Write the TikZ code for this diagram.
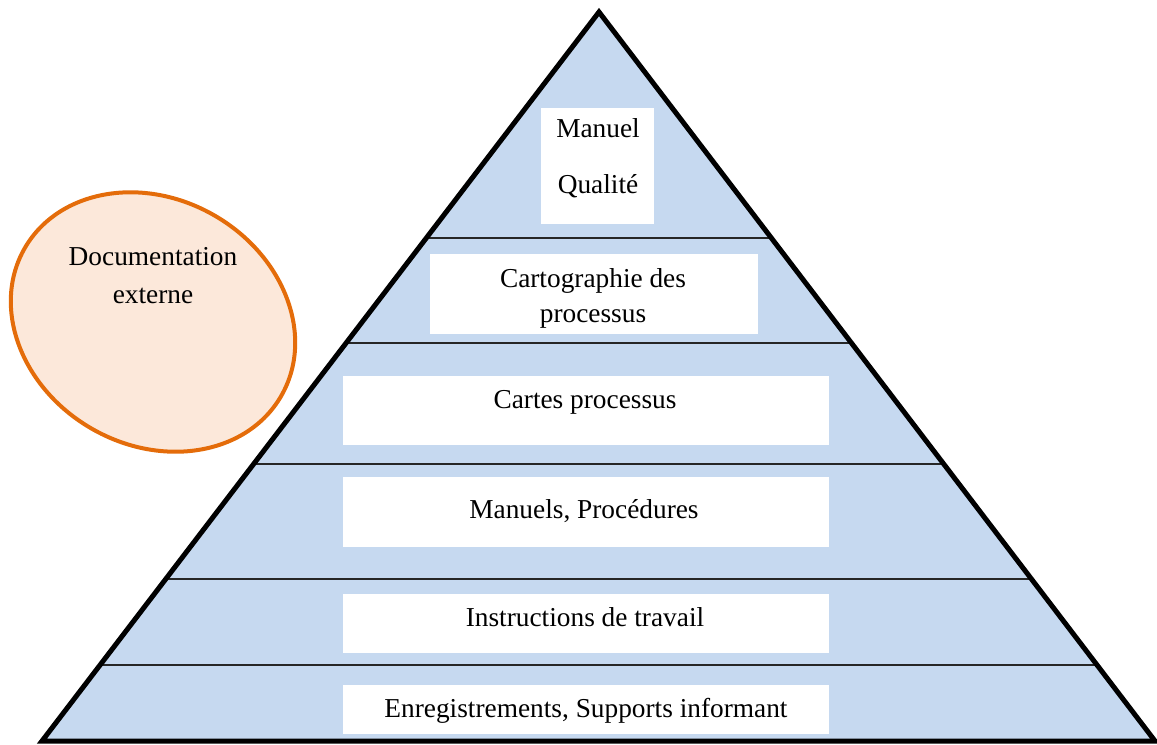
\documentclass[tikz,border=0pt]{standalone}
\usepackage{fontspec}
\setmainfont{Liberation Serif}
\definecolor{niveau}{RGB}{198,217,240}
\definecolor{externe}{RGB}{252,232,218}
\definecolor{orangebord}{RGB}{228,108,10}
\tikzset{
  boite/.style  = {fill=white, inner sep=0pt, anchor=north west},
  texte/.style  = {anchor=base, inner sep=0pt, align=center,
                   font=\fontsize{20.5}{26}\selectfont},
  separ/.style  = {line width=1.5pt, black!85},
}
\begin{document}
\begin{tikzpicture}[x=0.75pt, y=-0.75pt]
      \useasboundingbox (0,0) rectangle (1157,744);
      \coordinate (sommet) at (599,12);
      \coordinate (gauche) at (42,741);
      \coordinate (droite) at (1155,741);
      % pyramide et niveaux
      \begin{scope}
        \clip (sommet) -- (gauche) -- (droite) -- cycle;
        \fill[niveau] (sommet) -- (gauche) -- (droite) -- cycle;
        \foreach \y in {238, 343, 464, 579, 665}
          \draw[separ] (0,\y) -- (1157,\y);
      \end{scope}
      \draw[line width=3.75pt] (sommet) -- (gauche) -- (droite) -- cycle;
      % documentation externe
      \draw[orangebord, fill=externe, line width=3pt, rotate around={-30:(153,322)}]
        (153,322) ellipse (148 and 123);
      \node[texte] (doc) at (153,303) {Documentation\\[2.5pt]externe};
      % cases blanches (tailles en pt = px * 0.75)
      \node[boite, minimum width=84.75pt, minimum height=87pt]   (b1) at (541,108) {};
      \node[boite, minimum width=246pt,   minimum height=60pt]   (b2) at (430,254) {};
      \node[boite, minimum width=364.5pt, minimum height=51.75pt] (b3) at (343,376) {};
      \node[boite, minimum width=364.5pt, minimum height=52.5pt]  (b4) at (343,477) {};
      \node[boite, minimum width=364.5pt, minimum height=44.25pt] (b5) at (343,594) {};
      \node[boite, minimum width=364.5pt, minimum height=36.75pt] (b6) at (343,685) {};
      \node[texte] (t1) at (598,193) {Manuel\\[16pt]Qualité};
      \node[texte] (t2) at (593,322) {Cartographie des\\processus};
      \node[texte] (t3) at (585,408) {Cartes processus};
      \node[texte] (t4) at (584,518) {Manuels, Procédures};
      \node[texte] (t5) at (585,626) {Instructions de travail};
      \node[texte] (t6) at (586,717) {Enregistrements, Supports informant};
    \end{tikzpicture}
\end{document}
